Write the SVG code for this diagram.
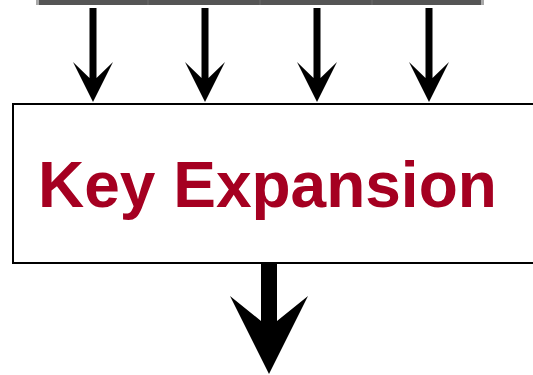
<svg xmlns="http://www.w3.org/2000/svg" width="533" height="375" viewBox="0 0 533 375">
<style>
.bar{fill:#555555}
.barend{fill:#a8a8a8}
.sep{fill:#5f5f5f}
.arr{fill:#000000}
.box{fill:#ffffff;stroke:#000000;stroke-width:2}
.lbl{font-family:"Liberation Sans",Arial,sans-serif;font-weight:bold;font-size:64px;fill:#a50021}
</style>
<g id="bus">
<rect class="bar" x="36" y="0" width="448" height="5"/>
<rect class="barend" x="36" y="0" width="3" height="5"/>
<rect class="barend" x="481" y="0" width="3" height="5"/>
<rect class="sep" x="147" y="0" width="2" height="5"/>
<rect class="sep" x="259" y="0" width="2" height="5"/>
<rect class="sep" x="371" y="0" width="2" height="5"/>
</g>
<g id="key-expansion">
<rect class="box" x="13" y="104" width="530" height="159"/>
<text class="lbl" x="38" y="207">Key Expansion</text>
</g>
<g id="connectors">
<polygon class="arr" points="89.5,8 96.5,8 96.5,78 113,62 93,102 73,62 89.5,78"/>
<polygon class="arr" points="201.5,8 208.5,8 208.5,78 225,62 205,102 185,62 201.5,78"/>
<polygon class="arr" points="313.5,8 320.5,8 320.5,78 337,62 317,102 297,62 313.5,78"/>
<polygon class="arr" points="425.5,8 432.5,8 432.5,78 449,62 429,102 409,62 425.5,78"/>
<polygon class="arr" points="261,264 277,264 277,321 308,296 269,374 230,296 261,321"/>
</g>
</svg>
